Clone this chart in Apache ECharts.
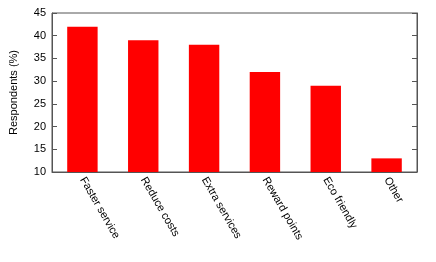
<!DOCTYPE html>
<html><head><meta charset="utf-8">
<script src="https://cdn.jsdelivr.net/npm/echarts@6/dist/echarts.min.js"></script>
<style>html,body{margin:0;padding:0;background:#fff}#c{width:436px;height:262px}</style>
</head><body><div id="c"></div>
<script>
const categories = ["Faster service","Reduce costs","Extra services","Reward points","Eco friendly","Other"];
const values = [42, 39, 38, 32, 29, 13];
const yTicks = [10, 15, 20, 25, 30, 35, 40, 45];
const yTitle = "Respondents (%)";

const chart = echarts.init(document.getElementById('c'), null, {renderer:'canvas'});
const font = 'Liberation Sans, Arial, sans-serif';
chart.setOption({
  animation:false,
  grid:{left:49, right:19, top:13, bottom:90, containLabel:false, show:true, borderColor:'#555', borderWidth:1, backgroundColor:'transparent'},
  xAxis:{
    type:'category', data:categories,
    axisLine:{show:true, lineStyle:{color:'#555', width:1}},
    axisTick:{show:false},
    axisLabel:{rotate:-60, color:'#000', fontSize:11, fontFamily:font, margin:6, interval:0}
  },
  yAxis:[{
    type:'value', min:yTicks[0], max:yTicks[yTicks.length-1], interval:5,
    name:yTitle, nameLocation:'middle', nameGap:33, nameRotate:90,
    nameTextStyle:{color:'#000', fontSize:11, fontFamily:font},
    axisLine:{show:true, lineStyle:{color:'#555'}},
    axisTick:{show:true, inside:true, length:5, lineStyle:{color:'#555'}},
    axisLabel:{color:'#000', fontSize:11, fontFamily:font, margin:6},
    splitLine:{show:false}
  },{
    type:'value', position:'right', min:yTicks[0], max:yTicks[yTicks.length-1], interval:5,
    axisLine:{show:true, lineStyle:{color:'#555'}},
    axisTick:{show:true, inside:true, length:5, lineStyle:{color:'#555'}},
    axisLabel:{show:false},
    splitLine:{show:false}
  }],
  series:[{
    type:'bar', data:values, barWidth:'50%', yAxisIndex:0,
    itemStyle:{color:'#ff0000'}
  }]
});
</script></body></html>
